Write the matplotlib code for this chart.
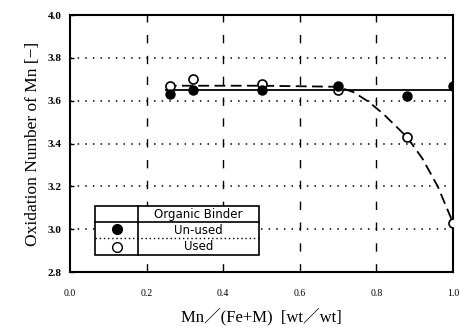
import numpy as np
import matplotlib
matplotlib.use("Agg")
import matplotlib.pyplot as plt

# measured points
mn_frac = [0.26, 0.32, 0.50, 0.70, 0.88, 1.00]
unused = [3.63, 3.65, 3.65, 3.67, 3.62, 3.67]
used = [3.67, 3.70, 3.68, 3.65, 3.43, 3.03]

# hand drawn trend lines
solid_x = [0.25, 1.00]
solid_y = [3.65, 3.65]
dash_x = [0.25, 0.50, 0.70, 0.74, 0.78, 0.82, 0.88, 0.92, 0.96, 1.00]
dash_y = [3.67, 3.67, 3.665, 3.64, 3.595, 3.535, 3.43, 3.33, 3.20, 3.03]

xticks = [0.0, 0.2, 0.4, 0.6, 0.8, 1.0]
yticks = [2.8, 3.0, 3.2, 3.4, 3.6, 3.8, 4.0]

serif = ['Liberation Serif', 'DejaVu Serif']

fig = plt.figure(figsize=(4.59, 3.27), dpi=100)
ax = fig.add_axes([0.1525, 0.168, 0.8345, 0.786])
ax.set_xlim(0, 1)
ax.set_ylim(2.8, 4.0)

# grid: dashed verticals, dotted horizontals
for gx in xticks[1:-1]:
    ax.axvline(gx, color='k', lw=1.0, ls=(0, (6, 9)), zorder=1)
for gy in yticks[1:-1]:
    ax.axhline(gy, color='k', lw=1.1, ls=(0, (1, 4)), zorder=1)

ax.plot(solid_x, solid_y, color='k', lw=1.3, zorder=2)
ax.plot(dash_x, dash_y, color='k', lw=1.3, ls=(0, (6, 3)), zorder=2)

ax.plot(mn_frac, used, 'o', ms=6.5, mfc='white', mec='k', mew=1.2, zorder=3)
ax.plot(mn_frac, unused, 'o', ms=6.5, mfc='k', mec='k', zorder=4)

ax.set_xticks(xticks)
ax.set_yticks(yticks)
ax.set_xticklabels(['0.0', '0.2', '0.4', '0.6', '0.8', '1.0'],
                   family=serif, fontsize=7)
ax.set_yticklabels(['2.8', '3.0', '3.2', '3.4', '3.6', '3.8', '4.0'],
                   family=serif, fontsize=8, fontweight='bold')
ax.tick_params(axis='x', direction='in', length=0, pad=12)
ax.tick_params(axis='y', direction='in', length=3, width=1, pad=6)
for s in ax.spines.values():
    s.set_linewidth(1.5)

ax.set_ylabel('Oxidation Number of Mn [−]', family=serif, fontsize=12.5, labelpad=5)
ax.set_xlabel('Mn／(Fe+M)  [wt／wt]', family=['Liberation Serif', 'Noto Sans CJK JP'],
              fontsize=12, labelpad=7)

# legend drawn as a small table
x0, x1, x2 = 0.065, 0.178, 0.493
y0, y1, y2, y3 = 2.879, 2.959, 3.033, 3.108
ax.add_patch(plt.Rectangle((x0, y0), x2 - x0, y3 - y0, fc='white', ec='k',
                           lw=1.2, zorder=5))
ax.plot([x1, x1], [y0, y3], color='k', lw=1.2, zorder=6)
ax.plot([x0, x2], [y2, y2], color='k', lw=1.2, zorder=6)
ax.plot([x0, x2], [y1, y1], color='k', lw=1.0, ls=(0, (1, 2)), zorder=6)
xm = (x0 + x1) / 2
xt = (x1 + x2) / 2
ax.plot([xm], [(y1 + y2) / 2 + 0.005], 'o', ms=7, mfc='k', mec='k', zorder=7)
ax.plot([xm], [(y0 + y1) / 2], 'o', ms=7, mfc='white', mec='k', mew=1.0, zorder=7)
ax.text(xt, (y2 + y3) / 2, 'Organic Binder', ha='center', va='center',
        fontsize=8.5, zorder=7)
ax.text(xt, (y1 + y2) / 2, 'Un-used', ha='center', va='center',
        fontsize=8.5, zorder=7)
ax.text(xt, (y0 + y1) / 2, 'Used', ha='center', va='center',
        fontsize=8.5, zorder=7)

fig.savefig('out.png', dpi=100)
